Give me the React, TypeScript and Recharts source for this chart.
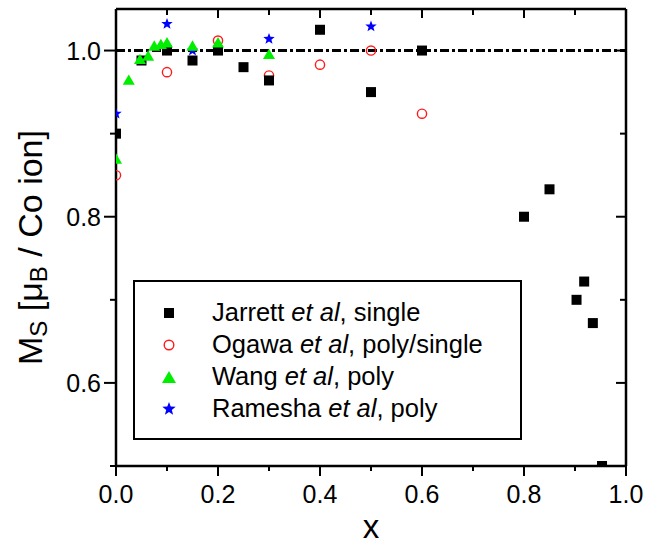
import { Legend, ReferenceLine, Scatter, ScatterChart, XAxis, YAxis } from "recharts";

const FONT = '"Liberation Sans", Arial, Helvetica, sans-serif';

// Jarrett et al, single crystals
const jarrettX = [0, 0.05, 0.1, 0.15, 0.2, 0.25, 0.3, 0.4, 0.5, 0.6, 0.8, 0.85, 0.903, 0.918, 0.935, 0.953];
const jarrettY = [0.9, 0.988, 1.0, 0.988, 1.0, 0.98, 0.964, 1.025, 0.95, 1.0, 0.8, 0.833, 0.7, 0.722, 0.672, 0.5];

// Ogawa et al, poly/single
const ogawaX = [0, 0.1, 0.2, 0.3, 0.4, 0.5, 0.6];
const ogawaY = [0.85, 0.974, 1.012, 0.97, 0.983, 1.0, 0.924];

// Wang et al, poly
const wangX = [0, 0.025, 0.047, 0.063, 0.075, 0.088, 0.1, 0.15, 0.2, 0.3];
const wangY = [0.87, 0.965, 0.99, 0.994, 1.006, 1.008, 1.01, 1.006, 1.01, 0.996];

// Ramesha et al, poly
const rameshaX = [0, 0.1, 0.15, 0.3, 0.5];
const rameshaY = [0.924, 1.032, 1.0, 1.014, 1.029];

const xTicks = [0, 0.1, 0.2, 0.3, 0.4, 0.5, 0.6, 0.7, 0.8, 0.9, 1.0];
const xMajor = [0, 0.2, 0.4, 0.6, 0.8, 1.0];
const yTicks = [0.5, 0.6, 0.7, 0.8, 0.9, 1.0];
const yMajor = [0.6, 0.8, 1.0];

const zip = (xs: number[], ys: number[]) => xs.map((x, i) => ({ x, y: ys[i] }));

const isMajor = (v: number, majors: number[]) => majors.some((m) => Math.abs(m - v) < 1e-6);

// --- marker shapes ---
const square = (cx: number, cy: number, s = 10) => (
  <rect x={cx - s / 2} y={cy - s / 2} width={s} height={s} fill="#000" />
);
const circle = (cx: number, cy: number, r = 4.6) => (
  <circle cx={cx} cy={cy} r={r} fill="none" stroke="#ff1a1a" strokeWidth={1.4} />
);
const triangle = (cx: number, cy: number, w = 12) => {
  const h = w * 0.87;
  return (
    <polygon
      points={`${cx - w / 2},${cy + h / 2} ${cx + w / 2},${cy + h / 2} ${cx},${cy - h / 2}`}
      fill="#00ee00"
    />
  );
};
const star = (cx: number, cy: number, r = 6) => {
  const pts: string[] = [];
  for (let i = 0; i < 10; i++) {
    const rr = i % 2 === 0 ? r : r * 0.42;
    const a = -Math.PI / 2 + (i * Math.PI) / 5;
    pts.push(`${cx + rr * Math.cos(a)},${cy + rr * Math.sin(a)}`);
  }
  return <polygon points={pts.join(" ")} fill="#0000ff" />;
};

// --- axis ticks ---
function BottomTick(props: any) {
  const { x, y, payload } = props;
  const major = isMajor(payload.value, xMajor);
  return (
    <g>
      <line x1={x} x2={x} y1={y} y2={y + (major ? 10 : 5)} stroke="#000" strokeWidth={2} />
      {major && (
        <text x={x} y={y + 37} textAnchor="middle" fontSize={25} fontFamily={FONT} fill="#000">
          {payload.value.toFixed(1)}
        </text>
      )}
    </g>
  );
}

function TopTick(props: any) {
  const { x, y, payload } = props;
  const major = isMajor(payload.value, xMajor);
  return <line x1={x} x2={x} y1={y} y2={y + (major ? 9 : 6)} stroke="#000" strokeWidth={2} />;
}

function LeftTick(props: any) {
  const { x, y, payload } = props;
  const major = isMajor(payload.value, yMajor);
  return (
    <g>
      <line x1={x - (major ? 12 : 6)} x2={x} y1={y} y2={y} stroke="#000" strokeWidth={2} />
      {major && (
        <text x={x - 15} y={y} dy="0.36em" textAnchor="end" fontSize={25} fontFamily={FONT} fill="#000">
          {payload.value.toFixed(1)}
        </text>
      )}
    </g>
  );
}

function RightTick(props: any) {
  const { x, y, payload } = props;
  const major = isMajor(payload.value, yMajor);
  return <line x1={x - (major ? 10 : 6)} x2={x} y1={y} y2={y} stroke="#000" strokeWidth={2} />;
}

const renderXTitle = (props: any) => {
  const vb = props.viewBox;
  return (
    <text x={vb.x + vb.width / 2} y={vb.y + 72} textAnchor="middle" fontSize={33} fontFamily={FONT} fill="#000">
      x
    </text>
  );
};

const renderYTitle = (props: any) => {
  const vb = props.viewBox;
  const cy = vb.y + vb.height / 2 + 10;
  return (
    <text
      transform={`translate(${vb.x + 42}, ${cy}) rotate(-90)`}
      textAnchor="middle"
      fontSize={34}
      fontFamily={FONT}
      fill="#000"
    >
      M
      <tspan fontSize={24} dy={5}>
        S
      </tspan>
      <tspan dy={-5}>{" [μ"}</tspan>
      <tspan fontSize={24} dy={5}>
        B
      </tspan>
      <tspan dy={-5}>{" / Co ion]"}</tspan>
    </text>
  );
};

// --- legend box ---
const legendItems = [
  { name: "Jarrett", rest: ", single", mark: (cx: number, cy: number) => square(cx, cy, 10) },
  { name: "Ogawa", rest: ", poly/single", mark: (cx: number, cy: number) => circle(cx, cy, 4.8) },
  { name: "Wang", rest: ", poly", mark: (cx: number, cy: number) => triangle(cx, cy, 14) },
  { name: "Ramesha", rest: ", poly", mark: (cx: number, cy: number) => star(cx, cy, 7) },
];

function LegendBox() {
  const w = 389;
  const h = 160;
  return (
    <svg width={w} height={h} style={{ display: "block" }}>
      <rect x={1} y={1} width={w - 2} height={h - 2} fill="#fff" stroke="#000" strokeWidth={2} />
      {legendItems.map((it, i) => {
        const cy = 33 + i * 32;
        return (
          <g key={it.name}>
            {it.mark(36, cy)}
            <text x={79} y={cy + 8} fontSize={25.5} fontFamily={FONT} fill="#000">
              {it.name + " "}
              <tspan fontStyle="italic">et al</tspan>
              {it.rest}
            </text>
          </g>
        );
      })}
    </svg>
  );
}

export default function App() {
  return (
    <div style={{ position: "absolute", left: 0, top: 0, width: 646, height: 547, background: "#fff" }}>
      <ScatterChart width={646} height={547} margin={{ top: 0, right: 0, bottom: 0, left: 0 }}>
        <XAxis
          xAxisId="b"
          dataKey="x"
          type="number"
          domain={[0, 1]}
          ticks={xTicks}
          allowDataOverflow
          height={81}
          tickSize={0}
          tickMargin={0}
          tickLine={false}
          tick={<BottomTick />}
          interval={0}
          axisLine={{ stroke: "#000", strokeWidth: 2.5 }}
          label={renderXTitle}
        />
        <XAxis
          xAxisId="t"
          orientation="top"
          dataKey="x"
          type="number"
          domain={[0, 1]}
          ticks={xTicks}
          allowDataOverflow
          height={9}
          tickSize={0}
          tickMargin={0}
          tickLine={false}
          tick={<TopTick />}
          interval={0}
          axisLine={{ stroke: "#000", strokeWidth: 2.5 }}
        />
        <YAxis
          yAxisId="l"
          dataKey="y"
          type="number"
          domain={[0.5, 1.05]}
          ticks={yTicks}
          allowDataOverflow
          width={116}
          tickSize={0}
          tickMargin={0}
          tickLine={false}
          tick={<LeftTick />}
          interval={0}
          axisLine={{ stroke: "#000", strokeWidth: 2.5 }}
          label={renderYTitle}
        />
        <YAxis
          yAxisId="r"
          orientation="right"
          dataKey="y"
          type="number"
          domain={[0.5, 1.05]}
          ticks={yTicks}
          allowDataOverflow
          width={20}
          tickSize={0}
          tickMargin={0}
          tickLine={false}
          tick={<RightTick />}
          interval={0}
          axisLine={{ stroke: "#000", strokeWidth: 2.5 }}
        />
        <ReferenceLine
          xAxisId="b"
          yAxisId="l"
          y={1}
          stroke="#000"
          strokeWidth={3}
          strokeDasharray="9 3 3 3"
        />
        <Scatter
          name="Ramesha et al, poly"
          xAxisId="b"
          yAxisId="l"
          data={zip(rameshaX, rameshaY)}
          isAnimationActive={false}
          shape={(p: any) => star(p.cx, p.cy, 6)}
        />
        <Scatter
          name="Ogawa et al, poly/single"
          xAxisId="b"
          yAxisId="l"
          data={zip(ogawaX, ogawaY)}
          isAnimationActive={false}
          shape={(p: any) => circle(p.cx, p.cy, 4.6)}
        />
        <Scatter
          name="Jarrett et al, single"
          xAxisId="b"
          yAxisId="l"
          data={zip(jarrettX, jarrettY)}
          isAnimationActive={false}
          shape={(p: any) => square(p.cx, p.cy, 10)}
        />
        <Scatter
          name="Wang et al, poly"
          xAxisId="b"
          yAxisId="l"
          data={zip(wangX, wangY)}
          isAnimationActive={false}
          shape={(p: any) => triangle(p.cx, p.cy, 12)}
        />
        <Legend
          layout="vertical"
          align="center"
          verticalAlign="middle"
          wrapperStyle={{ left: 133, top: 280, width: 389, height: 160 }}
          content={() => <LegendBox />}
        />
      </ScatterChart>
    </div>
  );
}
